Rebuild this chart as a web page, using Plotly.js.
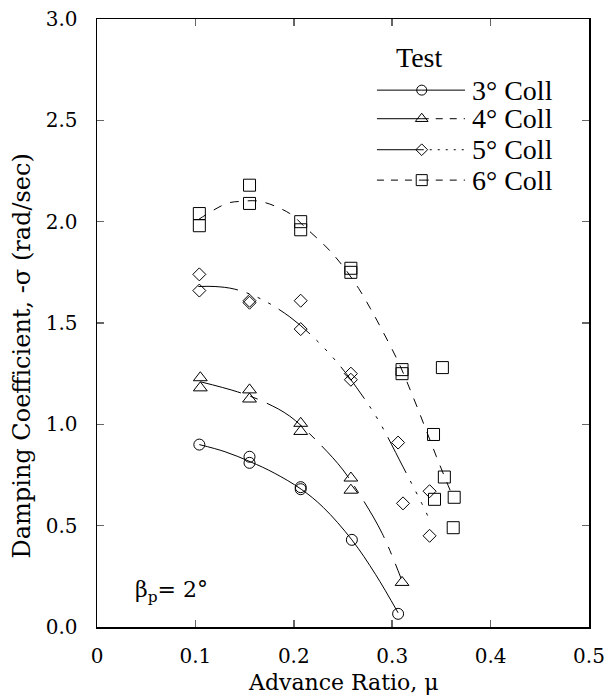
<!DOCTYPE html>
<html>
<head>
<meta charset="utf-8">
<script src="https://cdn.plot.ly/plotly-3.0.1.min.js"></script>
<style>html,body{margin:0;padding:0;background:#fff;}#chart{width:609px;height:698px;}</style>
</head>
<body>
<div id="chart"></div>
<script>
// ---- data ----
const seriesNames = ['3° Coll', '4° Coll', '5° Coll', '6° Coll'];

const mu3 = [0.104, 0.155, 0.155, 0.207, 0.207, 0.259, 0.306];
const sig3 = [0.90, 0.84, 0.81, 0.69, 0.68, 0.43, 0.065];
const fitMu3 = [0.104, 0.13, 0.156, 0.18, 0.2075, 0.23, 0.259, 0.283, 0.306];
const fitSig3 = [0.90, 0.865, 0.815, 0.76, 0.68, 0.59, 0.43, 0.26, 0.07];

const mu4 = [0.105, 0.105, 0.155, 0.155, 0.207, 0.207, 0.258, 0.258, 0.31];
const sig4 = [1.23, 1.18, 1.17, 1.125, 1.005, 0.965, 0.735, 0.675, 0.22];
const fitMu4 = [0.105, 0.143, 0.17, 0.196, 0.227, 0.25, 0.27, 0.29, 0.309];
const fitSig4 = [1.21, 1.16, 1.11, 1.04, 0.90, 0.775, 0.63, 0.46, 0.24];

const mu5 = [0.104, 0.104, 0.155, 0.155, 0.207, 0.207, 0.258, 0.258, 0.306, 0.311, 0.338, 0.338];
const sig5 = [1.74, 1.66, 1.61, 1.60, 1.61, 1.47, 1.25, 1.22, 0.91, 0.61, 0.67, 0.45];
const fitMu5 = [0.103, 0.12, 0.14, 0.166, 0.196, 0.222, 0.245, 0.264, 0.286, 0.311, 0.329, 0.336];
const fitSig5 = [1.68, 1.68, 1.667, 1.62, 1.53, 1.42, 1.30, 1.18, 1.02, 0.79, 0.62, 0.55];

const mu6 = [0.104, 0.104, 0.155, 0.155, 0.207, 0.207, 0.258, 0.258, 0.31, 0.31, 0.351, 0.342, 0.353, 0.343, 0.363, 0.362];
const sig6 = [2.04, 1.98, 2.18, 2.09, 2.00, 1.96, 1.77, 1.75, 1.27, 1.25, 1.28, 0.95, 0.74, 0.63, 0.64, 0.49];
const fitMu6 = [0.103, 0.132, 0.146, 0.166, 0.196, 0.212, 0.234, 0.25, 0.266, 0.278, 0.287, 0.306, 0.32, 0.333, 0.345, 0.355, 0.361];
const fitSig6 = [2.01, 2.09, 2.10, 2.10, 2.04, 1.97, 1.87, 1.78, 1.67, 1.57, 1.49, 1.31, 1.15, 0.99, 0.84, 0.72, 0.65];

const xTickVals = [0, 0.1, 0.2, 0.3, 0.4, 0.5];
const xTickText = ['0', '0.1', '0.2', '0.3', '0.4', '0.5'];
const yTickVals = [0, 0.5, 1.0, 1.5, 2.0, 2.5, 3.0];
const yTickText = ['0.0', '0.5', '1.0', '1.5', '2.0', '2.5', '3.0'];

// ---- styles ----
const symbols = ['circle-open', 'triangle-up-open', 'diamond-open', 'square-open'];
const markerSizes = [11, 12, 10, 12];
const curveDash = ['solid', '42px,10px,8px,10px', '40px,9px,3px,9px,3px,9px,3px,9px', '9px,9px'];
const legLeftDash = ['solid', 'solid', 'solid', '7px,7px'];
const legRightDash = ['solid', '7px,7px', '2px,6px', '7px,7px'];

const muData = [mu3, mu4, mu5, mu6];
const sigData = [sig3, sig4, sig5, sig6];
const fitMu = [fitMu3, fitMu4, fitMu5, fitMu6];
const fitSig = [fitSig3, fitSig4, fitSig5, fitSig6];

const traces = [];
for (let i = 0; i < 4; i++) {
  traces.push({
    x: fitMu[i], y: fitSig[i], mode: 'lines', type: 'scatter',
    line: {color: '#000', width: 1, dash: curveDash[i], shape: 'spline', smoothing: 1},
    showlegend: false, hoverinfo: 'skip'
  });
  traces.push({
    x: muData[i], y: sigData[i], mode: 'markers', type: 'scatter', name: seriesNames[i],
    marker: {symbol: symbols[i], size: markerSizes[i], color: '#000', line: {width: 1, color: '#000'}},
    showlegend: false
  });
}

// custom legend drawn on a hidden overlay axis (fractions of the plot area)
const legX0 = 0.569, legXm = 0.66, legX1 = 0.748, legTextX = 0.758;
const legRowsY = [0.883, 0.836, 0.785, 0.735];
for (let i = 0; i < 4; i++) {
  traces.push({x: [legX0, legXm], y: [legRowsY[i], legRowsY[i]], xaxis: 'x2', yaxis: 'y2', mode: 'lines',
    line: {color: '#000', width: 1, dash: legLeftDash[i]}, showlegend: false, hoverinfo: 'skip'});
  traces.push({x: [legXm, legX1], y: [legRowsY[i], legRowsY[i]], xaxis: 'x2', yaxis: 'y2', mode: 'lines',
    line: {color: '#000', width: 1, dash: legRightDash[i]}, showlegend: false, hoverinfo: 'skip'});
  traces.push({x: [legXm], y: [legRowsY[i]], xaxis: 'x2', yaxis: 'y2', mode: 'markers',
    marker: {symbol: symbols[i], size: markerSizes[i] - 1, color: '#000', line: {width: 1, color: '#000'}},
    showlegend: false, hoverinfo: 'skip'});
}

const tickFont = {family: 'DejaVu Serif', size: 20, color: '#000'};
const annotations = [
  {text: 'Advance Ratio, μ', xref: 'paper', yref: 'paper', x: 0.5, y: -0.092, xanchor: 'center', yanchor: 'middle',
   showarrow: false, font: {family: 'DejaVu Serif', size: 22, color: '#000'}},
  {text: 'Damping Coefficient, -σ (rad/sec)', xref: 'paper', yref: 'paper', x: -0.1524, y: 0.445,
   xanchor: 'center', yanchor: 'middle', textangle: -90, showarrow: false,
   font: {family: 'DejaVu Serif', size: 24, color: '#000'}},
  {text: 'β<sub>p</sub>= 2°', xref: 'paper', yref: 'paper', x: 0.073, y: 0.058, xanchor: 'left', yanchor: 'middle',
   showarrow: false, font: {family: 'DejaVu Serif', size: 22, color: '#000'}},
  {text: 'Test', xref: 'paper', yref: 'paper', x: 0.654, y: 0.9375, xanchor: 'center', yanchor: 'middle',
   showarrow: false, font: {family: 'Liberation Serif', size: 28, color: '#000'}}
];
for (let i = 0; i < 4; i++) {
  annotations.push({text: seriesNames[i], xref: 'paper', yref: 'paper', x: legTextX, y: legRowsY[i],
    xanchor: 'left', yanchor: 'middle', showarrow: false,
    font: {family: 'Liberation Serif', size: 28, color: '#000'}});
}

const layout = {
  width: 609, height: 698,
  margin: {l: 97, r: 20, t: 19, b: 71},
  paper_bgcolor: '#fff', plot_bgcolor: '#fff',
  showlegend: false,
  xaxis: {range: [0, 0.5], tickvals: xTickVals, ticktext: xTickText, ticks: 'inside', ticklen: 7,
    tickwidth: 1.5, tickcolor: '#666', showline: true, linecolor: '#000', linewidth: 1.5, mirror: 'ticks',
    showgrid: false, zeroline: false, tickfont: tickFont, ticklabelstandoff: 10, fixedrange: true},
  yaxis: {range: [0, 3], tickvals: yTickVals, ticktext: yTickText, ticks: 'inside', ticklen: 7,
    tickwidth: 1.5, tickcolor: '#666', showline: true, linecolor: '#000', linewidth: 1.5, mirror: 'ticks',
    showgrid: false, zeroline: false, tickfont: tickFont, ticklabelstandoff: 14, fixedrange: true},
  xaxis2: {overlaying: 'x', range: [0, 1], visible: false, fixedrange: true},
  yaxis2: {overlaying: 'y', range: [0, 1], visible: false, fixedrange: true},
  annotations: annotations
};

Plotly.newPlot('chart', traces, layout, {displayModeBar: false, staticPlot: true});
</script>
</body>
</html>
